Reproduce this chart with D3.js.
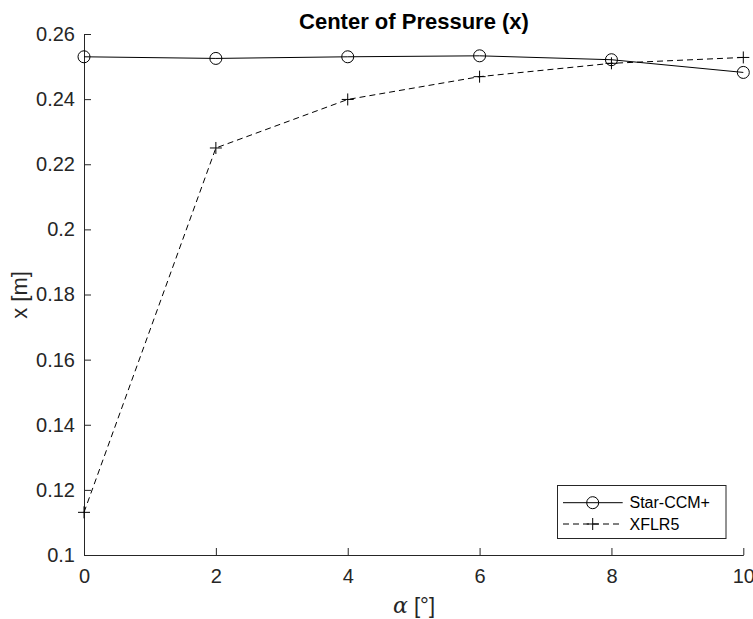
<!DOCTYPE html>
<html><head><meta charset="utf-8">
<script src="https://cdn.jsdelivr.net/npm/d3@7"></script>
<style>body{margin:0;background:#fff}svg{display:block}text{font-family:"Liberation Sans",Arial,sans-serif}</style>
</head><body>
<script>
const alpha = [0, 2, 4, 6, 8, 10];
const starCCM = [0.2530, 0.2525, 0.2530, 0.2533, 0.2521, 0.2482];
const xflr5 = [0.1131, 0.2250, 0.2399, 0.2469, 0.2510, 0.2528];
const xTicks = [0, 2, 4, 6, 8, 10];
const yTicks = [0.1, 0.12, 0.14, 0.16, 0.18, 0.2, 0.22, 0.24, 0.26];
const seriesNames = ["Star-CCM+", "XFLR5"];

const W = 753, H = 619;
const m = {left: 84, right: 10, top: 34, bottom: 64};
const axisColor = "#262626";
const svg = d3.select("body").append("svg").attr("width", W).attr("height", H);
const x = d3.scaleLinear().domain([0, 10]).range([m.left, 743.3]);
const y = d3.scaleLinear().domain([0.1, 0.26]).range([555, m.top]);

const fmtY = d => d3.format("")(+d.toFixed(2));

const gx = svg.append("g").attr("transform", `translate(0,${y(0.1)})`)
  .call(d3.axisBottom(x).tickValues(xTicks).tickSizeInner(-7).tickSizeOuter(0).tickPadding(14).tickFormat(d3.format("d")));
const gy = svg.append("g").attr("transform", `translate(${x(0)},0)`)
  .call(d3.axisLeft(y).tickValues(yTicks).tickSizeInner(-7).tickSizeOuter(0).tickPadding(9).tickFormat(fmtY));
[gx, gy].forEach(g => {
  g.select(".domain").attr("stroke", axisColor).attr("stroke-width", 1);
  g.selectAll(".tick line").attr("stroke", axisColor);
  g.selectAll(".tick text").attr("fill", axisColor).style("font-size", "20px");
});

const line = d3.line().x(d => x(d[0])).y(d => y(d[1]));
const starData = alpha.map((a, i) => [a, starCCM[i]]);
const xfData = alpha.map((a, i) => [a, xflr5[i]]);

svg.append("path").datum(starData).attr("d", line).attr("fill", "none").attr("stroke", "#000").attr("stroke-width", 1);
svg.append("path").datum(xfData).attr("d", line).attr("fill", "none").attr("stroke", "#000").attr("stroke-width", 1).attr("stroke-dasharray", "6,4");

function circle(g, cx, cy) {
  g.append("circle").attr("cx", cx).attr("cy", cy).attr("r", 6).attr("fill", "none").attr("stroke", "#000").attr("stroke-width", 1);
}
function plus(g, cx, cy) {
  g.append("path").attr("d", `M${cx-6},${cy}H${cx+6}M${cx},${cy-6}V${cy+6}`).attr("stroke", "#000").attr("stroke-width", 1).attr("fill", "none");
}
const mk = svg.append("g");
starData.forEach(d => circle(mk, x(d[0]), y(d[1])));
xfData.forEach(d => plus(mk, x(d[0]), y(d[1])));

// title and labels
svg.append("text").attr("x", 414).attr("y", 29).attr("text-anchor", "middle")
  .style("font-size", "22px").style("font-weight", "bold").attr("fill", "#000").text("Center of Pressure (x)");
svg.append("text").attr("x", 414).attr("y", 613).attr("text-anchor", "middle")
  .style("font-size", "22px").attr("fill", axisColor)
  .html('<tspan font-family="DejaVu Serif" font-style="italic">α</tspan> [°]');
svg.append("text").attr("transform", "translate(27,295) rotate(-90)").attr("text-anchor", "middle")
  .style("font-size", "22px").attr("fill", axisColor).text("x [m]");

// legend
const lg = svg.append("g");
lg.append("rect").attr("x", 557.5).attr("y", 485.5).attr("width", 168.5).attr("height", 53)
  .attr("fill", "#fff").attr("stroke", axisColor).attr("stroke-width", 1);
const rows = [502.7, 524];
rows.forEach((ry, i) => {
  const l = lg.append("line").attr("x1", 563).attr("x2", 622.7).attr("y1", ry).attr("y2", ry).attr("stroke", "#000").attr("stroke-width", 1);
  if (i === 1) { l.attr("stroke-dasharray", "6,4"); plus(lg, 592.7, ry); } else circle(lg, 592.7, ry);
  lg.append("text").attr("x", 629.5).attr("y", ry + 5.5).style("font-size", "16px").attr("fill", "#000").text(seriesNames[i]);
});
</script>
</body></html>
